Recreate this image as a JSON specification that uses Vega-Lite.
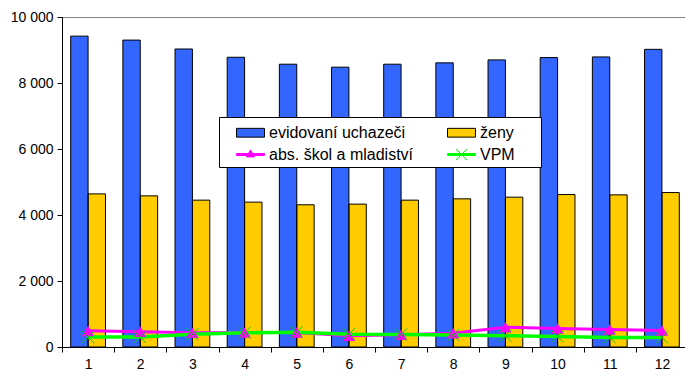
{
  "$schema": "https://vega.github.io/schema/vega-lite/v6.json",
  "width": 626,
  "height": 330,
  "autosize": "none",
  "padding": {"left": 62, "top": 17, "right": 0, "bottom": 23},
  "background": "white",
  "config": {
    "font": "Liberation Sans",
    "view": {"stroke": "#808080", "strokeWidth": 1},
    "axis": {"labelColor": "black", "domainColor": "black", "tickColor": "black", "grid": false, "title": null, "labelFontSize": 14}
  },
  "data": {"values": [
    {"month": 1, "series": "evidovaní uchazeči", "value": 9420},
    {"month": 2, "series": "evidovaní uchazeči", "value": 9300},
    {"month": 3, "series": "evidovaní uchazeči", "value": 9030},
    {"month": 4, "series": "evidovaní uchazeči", "value": 8780},
    {"month": 5, "series": "evidovaní uchazeči", "value": 8570},
    {"month": 6, "series": "evidovaní uchazeči", "value": 8480},
    {"month": 7, "series": "evidovaní uchazeči", "value": 8570},
    {"month": 8, "series": "evidovaní uchazeči", "value": 8610},
    {"month": 9, "series": "evidovaní uchazeči", "value": 8700},
    {"month": 10, "series": "evidovaní uchazeči", "value": 8770},
    {"month": 11, "series": "evidovaní uchazeči", "value": 8790},
    {"month": 12, "series": "evidovaní uchazeči", "value": 9020},
    {"month": 1, "series": "ženy", "value": 4640},
    {"month": 2, "series": "ženy", "value": 4580},
    {"month": 3, "series": "ženy", "value": 4450},
    {"month": 4, "series": "ženy", "value": 4390},
    {"month": 5, "series": "ženy", "value": 4310},
    {"month": 6, "series": "ženy", "value": 4330},
    {"month": 7, "series": "ženy", "value": 4450},
    {"month": 8, "series": "ženy", "value": 4490},
    {"month": 9, "series": "ženy", "value": 4540},
    {"month": 10, "series": "ženy", "value": 4620},
    {"month": 11, "series": "ženy", "value": 4610},
    {"month": 12, "series": "ženy", "value": 4680},
    {"month": 1, "series": "abs. škol a mladiství", "value": 490},
    {"month": 2, "series": "abs. škol a mladiství", "value": 465},
    {"month": 3, "series": "abs. škol a mladiství", "value": 430},
    {"month": 4, "series": "abs. škol a mladiství", "value": 440},
    {"month": 5, "series": "abs. škol a mladiství", "value": 440},
    {"month": 6, "series": "abs. škol a mladiství", "value": 340},
    {"month": 7, "series": "abs. škol a mladiství", "value": 370},
    {"month": 8, "series": "abs. škol a mladiství", "value": 420},
    {"month": 9, "series": "abs. škol a mladiství", "value": 600},
    {"month": 10, "series": "abs. škol a mladiství", "value": 560},
    {"month": 11, "series": "abs. škol a mladiství", "value": 530},
    {"month": 12, "series": "abs. škol a mladiství", "value": 500},
    {"month": 1, "series": "VPM", "value": 300},
    {"month": 2, "series": "VPM", "value": 300},
    {"month": 3, "series": "VPM", "value": 390},
    {"month": 4, "series": "VPM", "value": 430},
    {"month": 5, "series": "VPM", "value": 450},
    {"month": 6, "series": "VPM", "value": 390},
    {"month": 7, "series": "VPM", "value": 380},
    {"month": 8, "series": "VPM", "value": 360},
    {"month": 9, "series": "VPM", "value": 340},
    {"month": 10, "series": "VPM", "value": 320},
    {"month": 11, "series": "VPM", "value": 290},
    {"month": 12, "series": "VPM", "value": 290}
  ]},
  "encoding": {
    "x": {"field": "month", "type": "ordinal", "scale": {"paddingInner": 0, "paddingOuter": 0},
      "axis": {"labelAngle": 0, "tickBand": "extent", "tickSize": 5, "labelPadding": 5}},
    "y": {"field": "value", "type": "quantitative", "scale": {"domain": [0, 10000], "nice": false},
      "axis": {"values": [0, 2000, 4000, 6000, 8000, 10000], "tickSize": 5, "labelPadding": 4,
        "labelExpr": "replace(format(datum.value, ','), ',', ' ')"}}
  },
  "layer": [
    {
      "transform": [{"filter": "datum.series == 'evidovaní uchazeči' || datum.series == 'ženy'"}],
      "mark": {"type": "bar", "opacity": 1},
      "encoding": {
        "xOffset": {"field": "series", "type": "nominal", "sort": ["evidovaní uchazeči", "ženy"],
          "scale": {"domain": ["evidovaní uchazeči", "ženy"], "paddingInner": 0, "paddingOuter": 0.5}},
        "color": {"field": "series", "type": "nominal",
          "scale": {"domain": ["evidovaní uchazeči", "ženy", "abs. škol a mladiství", "VPM"],
            "range": ["#3366FF", "#FFCC00", "#FF00FF", "#00FF00"]},
          "legend": {
            "title": null, "orient": "none", "legendX": 157, "legendY": 100, "columns": 2, "direction": "horizontal",
            "columnPadding": 20, "rowPadding": 2, "padding": 4,
            "strokeColor": "black", "fillColor": "white",
            "labelFont": "Liberation Sans", "labelFontSize": 16, "labelColor": "black", "labelLimit": 400,
            "symbolSize": 484, "symbolOffset": 16, "labelOffset": 7, "symbolOpacity": 1,
            "labelExpr": "datum.label == 'VPM' ? 'VPM\u00a0\u00a0\u00a0\u00a0\u00a0\u200b' : datum.label",
            "symbolType": {"expr": "datum.value == 'VPM' ? 'M-1.27,-0.09H1.27V0.09H-1.27Z M-0.5,-0.5L0.5,0.5M-0.5,0.5L0.5,-0.5' : datum.value == 'abs. škol a mladiství' ? 'M-1.27,-0.09H1.27V0.09H-1.27Z M0,-0.42L0.36,0.22H-0.36Z' : 'M-1.27,-0.4H1.27V0.4H-1.27Z'"},
            "symbolStrokeColor": {"expr": "datum.value == 'VPM' ? '#00FF00' : datum.value == 'abs. škol a mladiství' ? '#FF00FF' : '#000000'"},
            "symbolStrokeWidth": 1
          }}
      }
    },
    {
      "transform": [{"filter": "datum.series == 'evidovaní uchazeči' || datum.series == 'ženy'"}],
      "mark": {"type": "bar", "fill": "transparent", "stroke": "black", "strokeWidth": 1, "opacity": 1},
      "encoding": {
        "xOffset": {"field": "series", "type": "nominal", "sort": ["evidovaní uchazeči", "ženy"],
          "scale": {"domain": ["evidovaní uchazeči", "ženy"], "paddingInner": 0, "paddingOuter": 0.5}}
      }
    },
    {
      "transform": [{"filter": "datum.series == 'abs. škol a mladiství'"}],
      "mark": {"type": "line", "color": "#FF00FF", "strokeWidth": 3},
      "encoding": {}
    },
    {
      "transform": [{"filter": "datum.series == 'VPM'"}],
      "mark": {"type": "line", "color": "#00FF00", "strokeWidth": 3.5},
      "encoding": {}
    },
    {
      "transform": [{"filter": "datum.series == 'abs. škol a mladiství'"}],
      "mark": {"type": "point", "shape": "triangle-up", "filled": true, "color": "#FF00FF", "size": 150, "opacity": 1},
      "encoding": {}
    },
    {
      "transform": [{"filter": "datum.series == 'VPM'"}],
      "mark": {"type": "point", "shape": "M-1,-1L1,1M-1,1L1,-1", "filled": false, "color": "#00CC00", "strokeWidth": 1, "size": 144, "opacity": 1},
      "encoding": {}
    }
  ]
}
